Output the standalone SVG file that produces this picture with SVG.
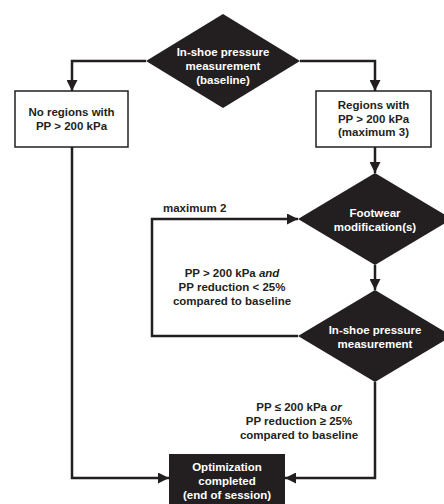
<svg xmlns="http://www.w3.org/2000/svg" width="444" height="504" viewBox="0 0 444 504">
<style>
  text { font-family: "Liberation Sans", Arial, sans-serif; font-weight: bold; font-size: 11.5px; fill: #231f20; text-anchor: middle; }
  .w { fill: #ffffff; }
  .dia { fill: #231f20; }
  .box { fill: #ffffff; stroke: #231f20; stroke-width: 1.5; }
  .dbox { fill: #231f20; }
  .conn { fill: none; stroke: #231f20; stroke-width: 2.5; }
  .st { text-anchor: start; }
</style>
<defs>
  <marker id="ah" markerUnits="userSpaceOnUse" markerWidth="11" markerHeight="11" refX="11" refY="5.5" orient="auto" viewBox="0 0 11 11">
    <path d="M0,0 L11,5.5 L0,11 z" fill="#231f20"/>
  </marker>
</defs>
<rect width="444" height="504" fill="#ffffff"/>
<g id="connectors">
  <path class="conn" d="M146,61 H72 V91" marker-end="url(#ah)"/>
  <path class="conn" d="M300,61 H375 V91" marker-end="url(#ah)"/>
  <path class="conn" d="M375,147 V173" marker-end="url(#ah)"/>
  <path class="conn" d="M375,265 V290" marker-end="url(#ah)"/>
  <path class="conn" d="M298,336 H152 V219 H298" marker-end="url(#ah)"/>
  <path class="conn" d="M375,382 V478 H285" marker-end="url(#ah)"/>
  <path class="conn" d="M72,147 V478 H169" marker-end="url(#ah)"/>
  <text class="st" x="163" y="212">maximum 2</text>
  <text x="232" y="277">PP &gt; 200 kPa <tspan font-style="italic">and</tspan></text>
  <text x="232" y="291">PP reduction &lt; 25%</text>
  <text x="232" y="305">compared to baseline</text>
  <text x="299" y="411">PP ≤ 200 kPa <tspan font-style="italic">or</tspan></text>
  <text x="299" y="425">PP reduction ≥ 25%</text>
  <text x="299" y="438.5">compared  to baseline</text>
</g>
<g id="baseline">
  <polygon class="dia" points="223,14 300,61 223,108 146,61"/>
  <text class="w" x="223" y="56">In-shoe pressure</text>
  <text class="w" x="223" y="70">measurement</text>
  <text class="w" x="223" y="84">(baseline)</text>
</g>
<g id="noregions">
  <rect class="box" x="15" y="91" width="113" height="56"/>
  <text x="71.5" y="116">No regions with</text>
  <text x="71.5" y="129.5">PP &gt; 200 kPa</text>
</g>
<g id="regions">
  <rect class="box" x="316" y="91" width="115" height="56"/>
  <text x="373.5" y="109">Regions with</text>
  <text x="373.5" y="122.5">PP &gt; 200 kPa</text>
  <text x="373.5" y="136">(maximum 3)</text>
</g>
<g id="footwear">
  <polygon class="dia" points="375,173 452,219 375,265 298,219"/>
  <text class="w" x="375" y="217">Footwear</text>
  <text class="w" x="375" y="230.5">modification(s)</text>
</g>
<g id="measurement">
  <polygon class="dia" points="375,290 452,336 375,382 298,336"/>
  <text class="w" x="375" y="334">In-shoe pressure</text>
  <text class="w" x="375" y="347.5">measurement</text>
</g>
<g id="optimization">
  <rect class="dbox" x="169" y="454" width="116" height="52"/>
  <text class="w" x="227" y="471">Optimization</text>
  <text class="w" x="227" y="485">completed</text>
  <text class="w" x="227" y="499">(end of session)</text>
</g>
</svg>
